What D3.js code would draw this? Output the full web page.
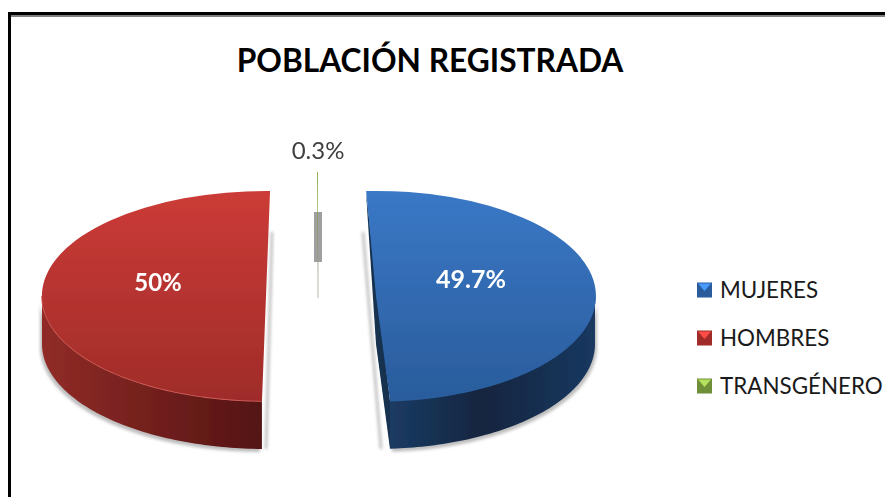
<!DOCTYPE html>
<html>
<head>
<meta charset="utf-8">
<script src="https://cdn.jsdelivr.net/npm/d3@7"></script>
<style>
  html, body { margin: 0; padding: 0; background: #fff; }
  text { font-family: Lato, "Open Sans", sans-serif; }
</style>
</head>
<body>
<svg id="pie" width="885" height="497" style="display:block"></svg>
<script>
const categories = ["MUJERES", "HOMBRES", "TRANSGÉNERO"];
const values = [49.7, 50, 0.3];
const valueLabels = ["49.7%", "50%", "0.3%"];

const svg = d3.select("#pie");
const depth = 48;

// how each slice sits in the picture: pulled out of the pie and turned a bit
const sliceLayout = [
  {cx: 376, cy: 296, rx: 219, ry: 105, turn: 0},
  {cx: 266, cy: 296, rx: 224, ry: 105, turn: 0.082},
  {cx: 318, cy: 277, rx: 50, ry: 105, turn: 0.045}
];

const topColor = d3.scaleOrdinal().domain(categories).range(["#3a78c6", "#cc3b37", "#8cb04a"]);
const lowColor = d3.scaleOrdinal().domain(categories).range(["#2a5c9c", "#9f2c29", "#6f8f38"]);
const rimColor = d3.scaleOrdinal().domain(categories).range(["#2c5f9e", "#d4625c", "#8cb04a"]);

const defs = svg.append("defs");
defs.append("filter").attr("id", "soft").append("feGaussianBlur").attr("stdDeviation", 0.6);
defs.append("filter").attr("id", "softer")
  .attr("x", "-50%").attr("y", "-10%").attr("width", "200%").attr("height", "120%")
  .append("feGaussianBlur").attr("stdDeviation", 1.6);

// wall stops, left to right
const wallStops = [
  [["0%", "#1b3b63"], ["45%", "#12253f"], ["100%", "#1a3860"]],
  [["0%", "#912b27"], ["100%", "#541413"]]
];
categories.forEach((c, i) => {
  const t = defs.append("linearGradient").attr("id", "top" + i)
    .attr("x1", 0).attr("y1", 0).attr("x2", 0).attr("y2", 1);
  t.append("stop").attr("offset", "0%").attr("stop-color", topColor(c));
  t.append("stop").attr("offset", "100%").attr("stop-color", lowColor(c));
  if (i < 2) {
    const w = defs.append("linearGradient").attr("id", "wall" + i);
    wallStops[i].forEach(s => w.append("stop").attr("offset", s[0]).attr("stop-color", s[1]));
  }
});

// frame
svg.append("rect").attr("x", 8).attr("y", 12).attr("width", 877).attr("height", 3).attr("fill", "#000");
svg.append("rect").attr("x", 8).attr("y", 12).attr("width", 3).attr("height", 485).attr("fill", "#000");
svg.append("rect").attr("x", 11).attr("y", 15).attr("width", 874).attr("height", 2).attr("fill", "#808080");

svg.append("text")
  .attr("x", 430).attr("y", 72)
  .attr("text-anchor", "middle")
  .attr("font-size", 31.7).attr("font-weight", 700).attr("fill", "#000")
  .text("POBLACIÓN REGISTRADA");

const pie = d3.pie().sort(null).startAngle(-0.045).endAngle(2 * Math.PI - 0.045);
const arcs = pie(values);
const arc = d3.arc().innerRadius(0).outerRadius(1);

const g = svg.append("g").attr("filter", "url(#soft)");

// soft shadow next to the gap
g.append("line").attr("x1", 272).attr("y1", 232).attr("x2", 266).attr("y2", 449)
  .attr("stroke", "#c4c4c4").attr("stroke-width", 3).attr("filter", "url(#softer)");
g.append("line").attr("x1", 363).attr("y1", 232).attr("x2", 381).attr("y2", 449)
  .attr("stroke", "#c4c4c4").attr("stroke-width", 3).attr("filter", "url(#softer)");

const point = (s, a, dy) => [
  s.cx + s.rx * Math.sin(a),
  s.cy - s.ry * Math.cos(a) + dy
];

arcs.forEach((d, i) => {
  const c = categories[i], s = sliceLayout[i];
  const a0 = d.startAngle + s.turn, a1 = d.endAngle + s.turn;

  if (i < 2) {
    // outer wall, front half of the ellipse only
    const from = Math.max(a0, Math.PI / 2), to = Math.min(a1, 3 * Math.PI / 2);
    const steps = d3.range(from, to, 0.02).concat([to]);
    const rim = steps.map(a => point(s, a, 0));
    const under = steps.map(a => point(s, a, depth)).reverse();
    const wall = d3.line()(rim.concat(under)) + "Z";
    // shadow under the wall
    g.append("path").attr("d", wall)
      .attr("transform", `translate(${i === 0 ? 2 : -2},3)`)
      .attr("fill", "#bdbdbd").attr("filter", "url(#softer)");
    g.append("path").attr("d", wall).attr("fill", `url(#wall${i})`);
    // thin light edge where the top meets the wall
    g.append("path").attr("d", d3.line()(rim)).attr("fill", "none")
      .attr("stroke", rimColor(c)).attr("stroke-width", 1.5);
  }
  if (i === 0) {
    // cut face of the blue slice, seen from the left
    const face = [[s.cx - 10, s.cy - 104], [s.cx, s.cy + depth], point(s, a1, depth), point(s, a1, 0)];
    g.append("path").attr("d", d3.line()(face) + "Z").attr("fill", "#14304f");
  }
  if (i === 2) {
    g.append("rect").attr("x", s.cx - 4).attr("y", 212).attr("width", 8).attr("height", 50)
      .attr("fill", "#7f7f7f").attr("opacity", 0.75);
    g.append("line").attr("x1", s.cx).attr("x2", s.cx).attr("y1", 262).attr("y2", 298)
      .attr("stroke", "#b8b8ac").attr("stroke-width", 1);
  }

  g.append("path")
    .attr("d", arc({startAngle: a0, endAngle: a1}))
    .attr("transform", `translate(${s.cx},${s.cy}) scale(${s.rx},${s.ry})`)
    .attr("fill", `url(#top${i})`);
});

const labelAt = [[471, 280], [158, 283]];
labelAt.forEach((p, i) => {
  svg.append("text").attr("x", p[0]).attr("y", p[1] + 8)
    .attr("text-anchor", "middle")
    .attr("font-size", i === 0 ? 25 : 24).attr("font-weight", 700).attr("fill", "#fff")
    .text(valueLabels[i]);
});
svg.append("text").attr("x", 318).attr("y", 159)
  .attr("text-anchor", "middle")
  .attr("font-size", 24).attr("fill", "#404040")
  .text(valueLabels[2]);

// legend
const legendY = d3.scalePoint().domain(categories).range([290, 386]);
const legend = svg.selectAll(".legend").data(categories).enter().append("g")
  .attr("class", "legend")
  .attr("transform", d => `translate(697,${legendY(d)})`);
legend.append("rect").attr("x", 0).attr("y", -7.5).attr("width", 15).attr("height", 15)
  .attr("fill", d => lowColor(d));
legend.append("path").attr("d", "M1,-6.5L14,-6.5L7.5,1Z").attr("fill", d => d3.color(topColor(d)).brighter(0.7));
legend.append("text").attr("x", 23).attr("y", 8)
  .attr("font-size", 22.4).attr("fill", "#1a1a1a")
  .text(d => d);
</script>
</body>
</html>
